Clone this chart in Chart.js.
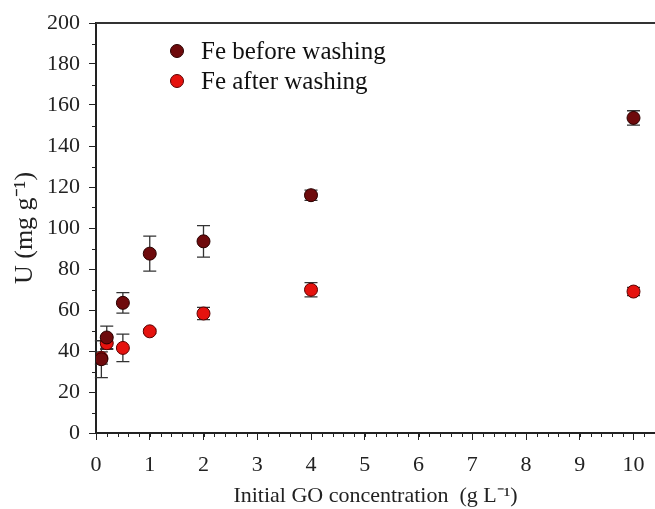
<!DOCTYPE html>
<html><head><meta charset="utf-8">
<script src="https://cdn.jsdelivr.net/npm/chart.js@4/dist/chart.umd.min.js"></script>
<style>html,body{margin:0;background:#fff}#wrap{width:655px;height:509px}</style>
</head><body><div id="wrap"><canvas id="c"></canvas></div>
<script>
const conc = [0.1, 0.2, 0.5, 1, 2, 4, 10];
const beforeU = [36, 46.6, 63.5, 87.5, 93.5, 116, 153.7];
const beforeErr = [9, 5.5, 5, 8.5, 7.7, 2.5, 3.5];
const afterU = [36.6, 43.8, 41.5, 49.6, 58.3, 69.9, 69];
const afterErr = [3, 3, 6.7, 1, 3, 3.5, 2];
const seriesNames = ['Fe before washing', 'Fe after washing'];
const FONT = "'Liberation Serif', 'Times New Roman', serif";

const pts = (xs, ys) => xs.map((x, i) => ({x, y: ys[i]}));

// error bars + minor ticks + top frame + legend
const Extras = {
  id:'extras',
  afterLayout(chart){
    // plot runs off the right edge of the picture, as in the original figure
    const x = chart.scales.x, a = chart.chartArea;
    x.right = chart.width; x.width = x.right - x.left; x.configure();
    a.right = chart.width; a.width = a.right - a.left;
  },
  beforeDatasetsDraw(chart){
    const {ctx, scales:{x, y}} = chart;
    ctx.save();
    ctx.strokeStyle='#333'; ctx.lineWidth=1.3;
    chart.data.datasets.forEach(ds=>{
      ds.data.forEach((p, i)=>{
        const e = ds.errors[i]; if(!e) return;
        const px = x.getPixelForValue(p.x);
        const t = y.getPixelForValue(p.y+e), b = y.getPixelForValue(p.y-e);
        ctx.beginPath();
        ctx.moveTo(px, t); ctx.lineTo(px, b);
        ctx.moveTo(px-6.5, t); ctx.lineTo(px+6.5, t);
        ctx.moveTo(px-6.5, b); ctx.lineTo(px+6.5, b);
        ctx.stroke();
      });
    });
    ctx.restore();
  },
  afterDraw(chart){
    const {ctx, chartArea:a, scales:{x, y}} = chart;
    ctx.save();
    ctx.strokeStyle='#222'; ctx.lineWidth=1;
    ctx.beginPath();
    for(let v=0; v<=10.4; v+=0.2){
      const px = Math.round(x.getPixelForValue(v))+0.5;
      ctx.moveTo(px, a.bottom); ctx.lineTo(px, a.bottom+4);
    }
    for(let v=10; v<200; v+=20){
      const py = Math.round(y.getPixelForValue(v))+0.5;
      ctx.moveTo(a.left, py); ctx.lineTo(a.left-4, py);
    }
    ctx.stroke();
    ctx.lineWidth=2; ctx.strokeStyle='#333';
    ctx.beginPath(); ctx.moveTo(a.left, a.top); ctx.lineTo(a.right, a.top); ctx.stroke();
    // legend
    ctx.font = `25px ${FONT}`; ctx.textBaseline='middle'; ctx.textAlign='left';
    chart.data.datasets.forEach((ds, i)=>{
      const ly = 51 + i*30;
      ctx.beginPath(); ctx.arc(177, ly, 6.5, 0, Math.PI*2);
      ctx.fillStyle = ds.backgroundColor; ctx.fill();
      ctx.lineWidth=1; ctx.strokeStyle = ds.borderColor; ctx.stroke();
      ctx.fillStyle='#111'; ctx.fillText(ds.label, 201, ly+1);
    });
    ctx.restore();
  }
};

new Chart(document.getElementById('c'), {
  type:'scatter',
  data:{datasets:[
    {label:seriesNames[0], data:pts(conc, beforeU), errors:beforeErr,
     backgroundColor:'#6e0a0c', borderColor:'#2a0000', borderWidth:1, pointRadius:6.5, pointHoverRadius:6.5},
    {label:seriesNames[1], data:pts(conc, afterU), errors:afterErr,
     backgroundColor:'#e5120e', borderColor:'#5a0000', borderWidth:1, pointRadius:6.5, pointHoverRadius:6.5}
  ]},
  options:{
    responsive:true, maintainAspectRatio:false, animation:false,
    layout:{padding:{top:23, right:0, left:0, bottom:0}},
    plugins:{legend:{display:false}, tooltip:{enabled:false}},
    scales:{
      x:{type:'linear', min:0, max:10.4,
        afterFit(s){ s.height = 76; s.paddingRight = 0; s.paddingLeft = 0; },
        border:{color:'#222', width:2},
        grid:{drawOnChartArea:false, tickLength:7, tickColor:'#222', tickWidth:1},
        ticks:{stepSize:1, includeBounds:false, color:'#222', padding:12,
          font:{family:FONT, size:22}, maxRotation:0,
          callback:v=>Number.isInteger(v)?String(v):''},
        title:{display:true, text:'Initial GO concentration  (g L\u207B\u00B9)', color:'#222',
          font:{family:FONT, size:22}, padding:{top:0, bottom:0}}
      },
      y:{min:0, max:200,
        afterFit(s){ s.width = 96; s.paddingTop = 0; s.paddingBottom = 0; },
        border:{color:'#222', width:2},
        grid:{drawOnChartArea:false, tickLength:7, tickColor:'#222', tickWidth:1},
        ticks:{stepSize:20, color:'#222', padding:9, font:{family:FONT, size:22}},
        title:{display:true, text:'U (mg g\u207B\u00B9)', color:'#222',
          font:{family:FONT, size:26}, padding:{top:10, bottom:0}}
      }
    }
  },
  plugins:[Extras]
});
</script></body></html>
